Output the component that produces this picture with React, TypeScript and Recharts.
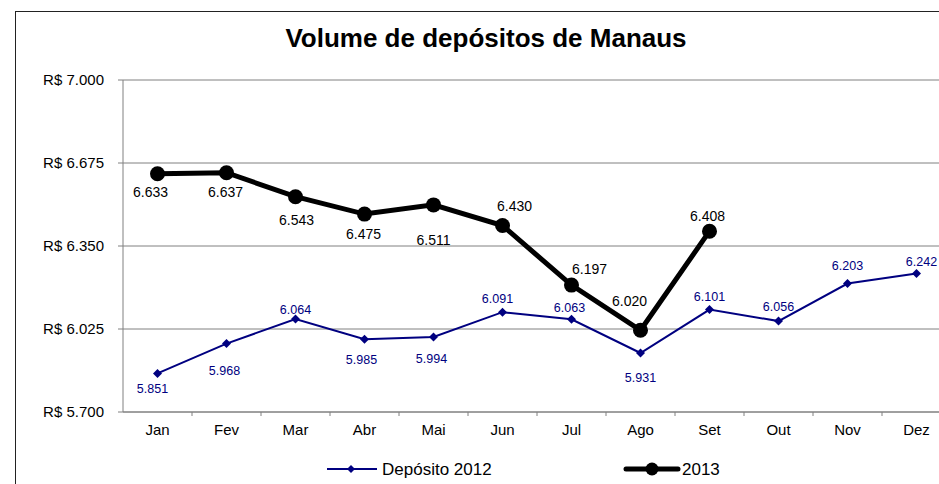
import { LineChart, Line, XAxis, YAxis, CartesianGrid, LabelList } from 'recharts'

const meses = ['Jan', 'Fev', 'Mar', 'Abr', 'Mai', 'Jun', 'Jul', 'Ago', 'Set', 'Out', 'Nov', 'Dez']
const deposito2012 = [5851, 5968, 6064, 5985, 5994, 6091, 6063, 5931, 6101, 6056, 6203, 6242]
const deposito2013 = [6633, 6637, 6543, 6475, 6511, 6430, 6197, 6020, 6408, null, null, null]
const yTicks = [5700, 6025, 6350, 6675, 7000]

// label offsets (dx, dy) relative to each point, as placed in the original
const rotulos2012 = [[-5, 15], [-2, 27], [0, -9], [-3, 20], [-2, 22], [-5, -14], [-2, -12], [0, 25], [0, -13], [0, -15], [0, -18], [5, -12]]
const rotulos2013 = [[-7, 18], [-1, 19], [1, 23], [-1, 20], [0, 35], [12, -20], [18, -16], [-11, -29], [-2, -15]]

const CHART_W = 960
const CHART_H = 476
const MARGIN = { top: 72, right: 17, bottom: 42, left: 0 }
const Y_W = 115
const STEP = (CHART_W - MARGIN.left - MARGIN.right - Y_W) / meses.length
const HALF = STEP / 2
const FONT = 'Liberation Sans, Arial, sans-serif'
const NAVY = '#000080'

const data = meses.map((mes, i) => ({ mes, d2012: deposito2012[i], d2013: deposito2013[i] }))

const fmt = (n: number) => {
  const s = String(n)
  return s.slice(0, s.length - 3) + '.' + s.slice(-3)
}

const makeLabel = (offsets: number[][], color: string, size: number) => (props: any) => {
  const { x, y, value, index } = props
  if (value == null || x == null || y == null) return null
  const [dx, dy] = offsets[index] || [0, -14]
  return (
    <text x={x + dx} y={y + dy} dy="0.355em" textAnchor="middle" fill={color} fontSize={size} fontFamily={FONT}>
      {fmt(value)}
    </text>
  )
}

const Diamond = (props: any) => {
  const { cx, cy, index } = props
  if (cx == null || cy == null) return <g key={`d-${index}`} />
  const r = 4.5
  return (
    <polygon key={`d-${index}`} points={`${cx},${cy - r} ${cx + r},${cy} ${cx},${cy + r} ${cx - r},${cy}`} fill={NAVY} />
  )
}

const Circle = (props: any) => {
  const { cx, cy, index } = props
  if (cx == null || cy == null) return <g key={`c-${index}`} />
  return <circle key={`c-${index}`} cx={cx} cy={cy} r={7.5} fill="#000" />
}

const XTick = (props: any) => {
  const { x, y, payload } = props
  return (
    <g>
      <line x1={x + HALF} x2={x + HALF} y1={y} y2={y + 4} stroke="#808080" />
      <text x={x} y={y + 18} dy="0.355em" textAnchor="middle" fontSize={15} fontFamily={FONT} fill="#000">
        {payload.value}
      </text>
    </g>
  )
}

export default function App() {
  return (
    <div style={{ position: 'relative', width: 939, height: 484, overflow: 'hidden', fontFamily: FONT }}>
      <style>{'body { margin: 0; }'}</style>
      <div
        style={{
          position: 'absolute', left: 15, top: 11, width: 1000, height: 1000,
          borderLeft: '1px solid #222', borderTop: '1px solid #222',
        }}
      />
      <div
        style={{
          position: 'absolute', left: 0, top: 25, width: 972, textAlign: 'center',
          fontSize: 26, lineHeight: '26px', fontWeight: 'bold', color: '#000',
        }}
      >
        Volume de depósitos de Manaus
      </div>
      <div style={{ position: 'absolute', left: 8, top: 8 }}>
        <LineChart width={CHART_W} height={CHART_H} data={data} margin={MARGIN}>
          <CartesianGrid horizontal vertical={false} stroke="#808080" />
          <XAxis
            dataKey="mes"
            padding={{ left: HALF, right: HALF }}
            stroke="#808080"
            tickLine={false}
            tickSize={0}
            tickMargin={0}
            height={30}
            tick={<XTick />}
            interval={0}
          />
          <YAxis
            width={Y_W}
            domain={[5700, 7000]}
            ticks={yTicks}
            stroke="#808080"
            tickSize={5}
            tickMargin={14}
            tickFormatter={(v: number) => 'R$ ' + fmt(v)}
            tick={{ fill: '#000', fontSize: 15, fontFamily: FONT }}
            allowDataOverflow
          />
          <Line
            dataKey="d2012"
            stroke={NAVY}
            strokeWidth={2}
            dot={Diamond}
            activeDot={false}
            isAnimationActive={false}
          >
            <LabelList dataKey="d2012" content={makeLabel(rotulos2012, NAVY, 12.5)} />
          </Line>
          <Line
            dataKey="d2013"
            stroke="#000"
            strokeWidth={5}
            dot={Circle}
            activeDot={false}
            isAnimationActive={false}
          >
            <LabelList dataKey="d2013" content={makeLabel(rotulos2013, '#000', 14)} />
          </Line>
        </LineChart>
      </div>
      <svg style={{ position: 'absolute', left: 8, top: 456 }} width={931} height={26}>
        <line x1={319} x2={369} y1={13} y2={13} stroke={NAVY} strokeWidth={2} />
        <polygon points="343,9 347,13 343,17 339,13" fill={NAVY} />
        <text x={374} y={13} dy="0.355em" fontSize={17} fontFamily={FONT} fill="#000">Depósito 2012</text>
        <line x1={618} x2={670} y1={13} y2={13} stroke="#000" strokeWidth={5} strokeLinecap="round" />
        <circle cx={644} cy={13} r={6.5} fill="#000" />
        <text x={674} y={13} dy="0.355em" fontSize={17} fontFamily={FONT} fill="#000">2013</text>
      </svg>
    </div>
  )
}
